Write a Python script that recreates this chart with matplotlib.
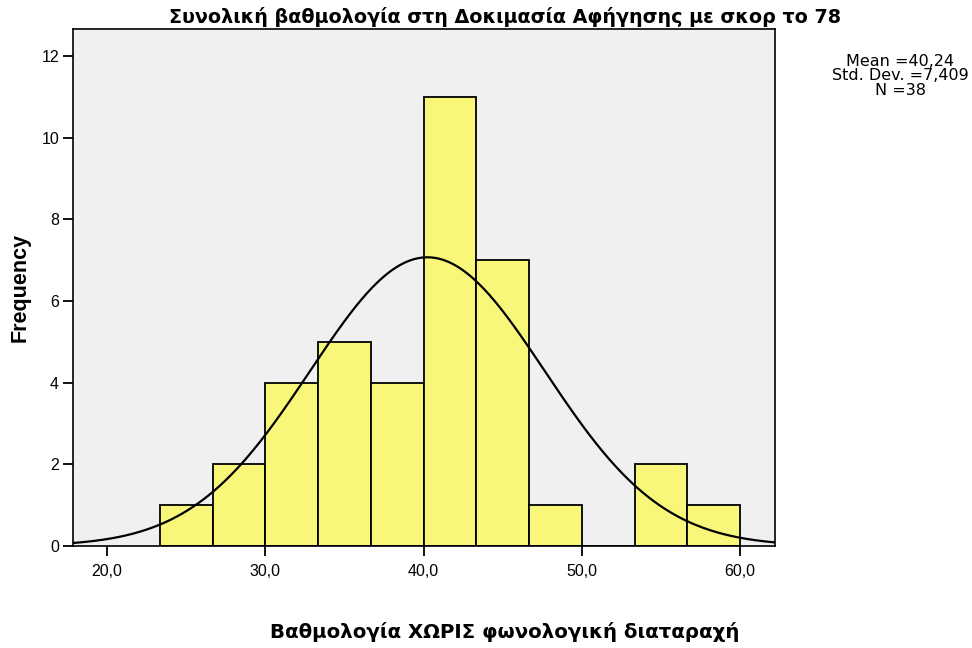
import numpy as np
import matplotlib
matplotlib.use("Agg")
import matplotlib.pyplot as plt

# histogram bins and counts
bin_edges = [23.33, 26.67, 30.0, 33.33, 36.67, 40.0, 43.33, 46.67, 50.0, 53.33, 56.67, 60.0]
counts = [1, 2, 4, 5, 4, 11, 7, 1, 0, 2, 1]
mean_val = 40.24
std_val = 7.409
n_val = 38
curve_peak = 7.07

xticks = [20, 30, 40, 50, 60]
xtick_labels = ["20,0", "30,0", "40,0", "50,0", "60,0"]
yticks = [0, 2, 4, 6, 8, 10, 12]

plt.rcParams['font.family'] = ['Liberation Sans', 'DejaVu Sans']

fig = plt.figure(figsize=(9.72, 6.48), dpi=100, facecolor='white')
ax = fig.add_axes([73 / 972, 1 - 546 / 648, (775 - 73) / 972, (546 - 29) / 648])
ax.set_facecolor('#f0f0f0')

lefts = bin_edges[:-1]
widths = np.diff(bin_edges)
ax.bar(lefts, counts, width=widths, align='edge', color='#f9f77a',
       edgecolor='black', linewidth=1.3, zorder=2)

# normal curve from the shown mean / sd
xs = np.linspace(17.85, 62.2, 400)
ys = curve_peak * np.exp(-0.5 * ((xs - mean_val) / std_val) ** 2)
ax.plot(xs, ys, color='black', linewidth=1.6, zorder=3)

ax.set_xlim(17.85, 62.2)
ax.set_ylim(0, 12.66)
ax.set_xticks(xticks)
ax.set_xticklabels(xtick_labels)
ax.set_yticks(yticks)
ax.tick_params(direction='out', length=7, width=1.3, labelsize=11.5, pad=3)
ax.tick_params(axis='x', pad=6)
for s in ax.spines.values():
    s.set_linewidth(1.2)

ax.set_ylabel('Frequency', family=['Liberation Sans Narrow', 'Liberation Sans'],
              fontsize=15.5, fontweight='bold', labelpad=8)

fig.text(505 / 972, 1 - 17 / 648, 'Συνολική βαθμολογία στη Δοκιμασία Αφήγησης με σκορ το 78',
         ha='center', va='center', fontsize=13.8, fontweight='bold', family='DejaVu Sans')
fig.text(505 / 972, 1 - 632 / 648, 'Βαθμολογία ΧΩΡΙΣ φωνολογική διαταραχή',
         ha='center', va='center', fontsize=14.2, fontweight='bold', family='DejaVu Sans')
fig.text(900 / 972, 1 - 76 / 648,
         'Mean =40,24\nStd. Dev. =7,409\nN =38',
         ha='center', va='center', fontsize=11.5, linespacing=0.95, family='DejaVu Sans')

fig.savefig('out.png', dpi=100)
